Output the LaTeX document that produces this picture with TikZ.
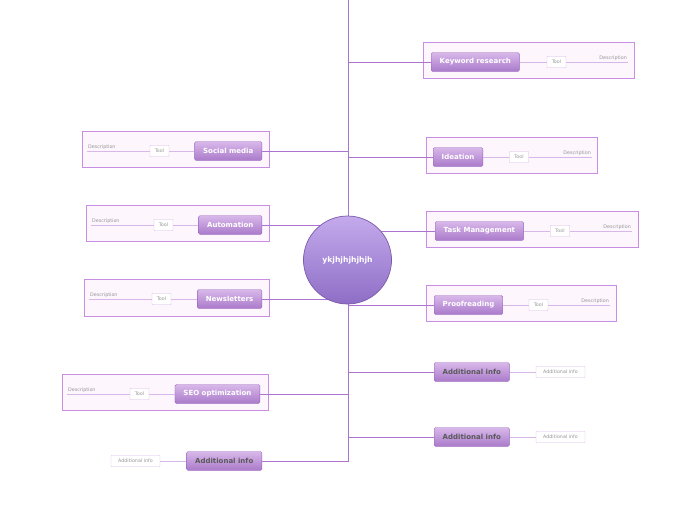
\documentclass[tikz,border=0pt]{standalone}
\usepackage{fontspec}
\setmainfont{DejaVu Sans}
\usepackage{tikz}
\usetikzlibrary{arrows.meta,positioning}

\definecolor{lnc}{RGB}{172,116,206}
\definecolor{frc}{RGB}{200,142,226}
\definecolor{frf}{RGB}{253,246,253}
\definecolor{ntop}{RGB}{216,184,234}
\definecolor{nbot}{RGB}{170,122,202}
\definecolor{nbd}{RGB}{156,100,192}
\definecolor{ctop}{RGB}{196,170,236}
\definecolor{cbot}{RGB}{142,110,198}
\definecolor{cbd}{RGB}{122,90,170}
\definecolor{thn}{RGB}{216,184,232}
\definecolor{gtx}{RGB}{150,150,150}

\begin{document}
\begin{tikzpicture}[x=1pt, y=-1pt,
  ln/.style={draw=lnc, line width=0.8pt},
  sub/.style={draw=thn, line width=0.6pt},
  frame/.style={draw=frc, fill=frf, line width=0.6pt},
  topic/.style={draw=nbd, top color=ntop, bottom color=nbot, rounded corners=1.5pt,
    minimum height=19pt, inner xsep=8.5pt, inner ysep=0pt, text=white,
    font=\fontsize{7}{8}\selectfont\bfseries},
  extra/.style={topic, text=black!65},
  tool/.style={draw=thn, fill=white, rounded corners=0.5pt, minimum height=11pt,
    minimum width=19pt, inner sep=1pt, text=gtx, font=\fontsize{4.8}{5}\selectfont},
  info/.style={tool, minimum width=49pt},
  desc/.style={text=gtx, inner sep=1pt, font=\fontsize{4.8}{5}\selectfont},
  hub/.style={circle, draw=cbd, line width=0.7pt, minimum size=88pt, inner sep=0pt,
    text=white, font=\fontsize{7.6}{8}\selectfont\bfseries,
    path picture={\shade[top color=ctop, bottom color=cbot]
      (path picture bounding box.south west) rectangle (path picture bounding box.north east);}}]
  \useasboundingbox (0,0) rectangle (696,520);

  % frames behind the topics
  \draw[frame] (423,42) rectangle (634,78);
  \draw[frame] (426,137) rectangle (597,173);
  \draw[frame] (426,211) rectangle (638,247);
  \draw[frame] (426,285) rectangle (616,321);
  \draw[frame] (82,131) rectangle (269,167);
  \draw[frame] (86,205) rectangle (269,241);
  \draw[frame] (84,279) rectangle (269,316);
  \draw[frame] (62,374) rectangle (268,410);

  % topics
  \node[topic, anchor=west] (kw) at (431,62) {Keyword research};
  \node[topic, anchor=west] (id) at (433,157) {Ideation};
  \node[topic, anchor=west] (tm) at (435,231) {Task Management};
  \node[topic, anchor=west] (pr) at (434,305) {Proofreading};
  \node[extra, anchor=west] (ar1) at (434,372) {Additional info};
  \node[extra, anchor=west] (ar2) at (434,437) {Additional info};
  \node[topic, anchor=east] (sm) at (262,151) {Social media};
  \node[topic, anchor=east] (au) at (262,225) {Automation};
  \node[topic, anchor=east] (nl) at (262,299) {Newsletters};
  \node[topic, anchor=east] (seo) at (260,394) {SEO optimization};
  \node[extra, anchor=east] (al) at (262,461) {Additional info};

  % tools and descriptions
  \node[tool] (kwt) at (556.5,62) {Tool};
  \node[tool] (idt) at (519,157) {Tool};
  \node[tool] (tmt) at (560,231) {Tool};
  \node[tool] (prt) at (538.5,305) {Tool};
  \node[tool] (smt) at (159.5,151) {Tool};
  \node[tool] (aut) at (163.5,225) {Tool};
  \node[tool] (nlt) at (161.5,299) {Tool};
  \node[tool] (seot) at (139.5,394) {Tool};
  \node[desc, anchor=south east] (kwd) at (628,62) {Description};
  \node[desc, anchor=south east] (idd) at (592,157) {Description};
  \node[desc, anchor=south east] (tmd) at (632,231) {Description};
  \node[desc, anchor=south east] (prd) at (610,305) {Description};
  \node[desc, anchor=south west] (smd) at (87,151) {Description};
  \node[desc, anchor=south west] (aud) at (91,225) {Description};
  \node[desc, anchor=south west] (nld) at (89,299) {Description};
  \node[desc, anchor=south west] (seod) at (67,394) {Description};
  \node[info] (ar1i) at (560.5,372) {Additional info};
  \node[info] (ar2i) at (560.5,437) {Additional info};
  \node[info] (ali) at (135.5,461) {Additional info};

  \draw[sub] (kw) -- (kwt) -- (kwd.south east);
  \draw[sub] (id) -- (idt) -- (idd.south east);
  \draw[sub] (tm) -- (tmt) -- (tmd.south east);
  \draw[sub] (pr) -- (prt) -- (prd.south east);
  \draw[sub] (sm) -- (smt) -- (smd.south west);
  \draw[sub] (au) -- (aut) -- (aud.south west);
  \draw[sub] (nl) -- (nlt) -- (nld.south west);
  \draw[sub] (seo) -- (seot) -- (seod.south west);
  \draw[sub] (ar1) -- (ar1i);
  \draw[sub] (ar2) -- (ar2i);
  \draw[sub] (al) -- (ali);

  % trunk and branches
  \coordinate (top) at (348,0);
  \coordinate (c) at (348,260);
  \draw[ln] (top) -- (c);
  \foreach \n in {kw,id,tm,pr,ar1,ar2}
    \draw[ln] (c) |- (\n.west);
  \foreach \n in {sm,au,nl,seo,al}
    \draw[ln] (c) |- (\n.east);

  \node[hub] (hub) at (347.5,260) {ykjhjhjhjhjh};
\end{tikzpicture}
\end{document}
